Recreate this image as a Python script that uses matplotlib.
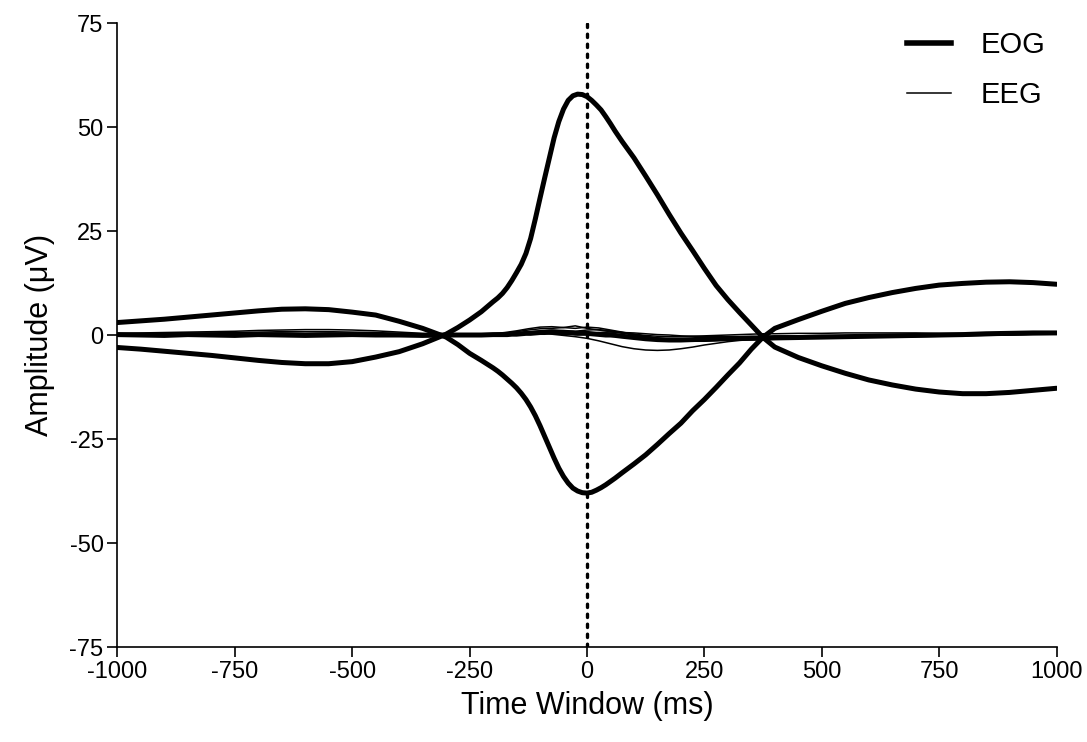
import numpy as np
import matplotlib
matplotlib.use('Agg')
import matplotlib.pyplot as plt
from matplotlib.lines import Line2D

plt.rcParams['font.family'] = ['Liberation Sans', 'DejaVu Sans']
plt.rcParams['axes.unicode_minus'] = False

# EOG time points (ms), denser around the blink peak
eog_time = ([-1000, -950, -900, -850, -800, -750, -700, -650, -600, -550,
             -500, -450, -400, -350]
            + [-300, -275, -250, -225, -200]
            + list(range(-190, 61, 10))
            + list(range(75, 401, 25))
            + [450, 500, 550, 600, 650, 700, 750, 800, 850, 900, 950, 1000])

# EOG channels (uV)
eog_up = [-3.0, -3.4, -3.9, -4.4, -4.9, -5.5, -6.1, -6.6, -6.9, -6.9,
          -6.4, -5.3, -4.0, -2.1,
          0.2, 1.8, 3.6, 5.6, 8.0,
          8.9, 10.0, 11.4, 13.1, 15.0, 17.0, 19.6, 23.2, 27.9, 32.9, 37.8,
          42.6, 47.4, 51.3, 54.3, 56.4, 57.5, 57.9, 57.8, 57.3, 56.4, 55.3,
          54.1, 52.5, 50.8, 49.0,
          46.5, 42.6, 38.2, 33.7, 29.0, 24.5, 20.3, 16.0, 11.9, 8.5, 5.4,
          2.4, -0.6, -2.9,
          -5.4, -7.4, -9.2, -10.8, -12.0, -13.0, -13.7, -14.1, -14.1, -13.8,
          -13.3, -12.8]
eog_down = [3.0, 3.4, 3.8, 4.3, 4.8, 5.3, 5.8, 6.2, 6.3, 6.1,
            5.5, 4.8, 3.3, 1.6,
            -0.5, -2.3, -4.4, -6.1, -7.9,
            -8.7, -9.6, -10.6, -11.6, -12.7, -14.0, -15.5, -17.3, -19.4,
            -21.8, -24.4, -27.0, -29.6, -32.0, -34.0, -35.6, -36.8, -37.5,
            -37.9, -38.0, -37.8, -37.3, -36.7, -36.0, -35.2, -34.4,
            -33.1, -31.0, -28.8, -26.3, -23.7, -21.2, -18.2, -15.5, -12.6,
            -9.6, -6.7, -3.4, -0.5, 1.6,
            3.7, 5.7, 7.6, 9.0, 10.2, 11.2, 12.0, 12.4, 12.7, 12.8, 12.6, 12.2]
eog_flat = [0.1, 0.0, -0.1, 0.1, 0.0, -0.1, 0.1, 0.0, -0.1, 0.0,
            0.1, 0.0, 0.0, -0.1,
            0.0, 0.0, 0.0, 0.0, 0.1,
            0.1, 0.1, 0.1, 0.2, 0.2, 0.3, 0.4, 0.4, 0.5, 0.6, 0.6, 0.7, 0.7,
            0.6, 0.6, 0.5, 0.5, 0.4, 0.4, 0.4, 0.3, 0.2, 0.1, 0.0, 0.0, -0.1,
            -0.3, -0.6, -0.9, -1.1, -1.2, -1.2, -1.1, -1.0, -0.9, -0.8, -0.8,
            -0.8, -0.8, -0.7,
            -0.6, -0.5, -0.4, -0.3, -0.2, -0.1, 0.0, 0.1, 0.3, 0.4, 0.5, 0.5]

# EEG time points (ms)
eeg_time = ([-1000, -950, -900, -850, -800, -750, -700, -650, -600, -550,
             -500, -450, -400, -350]
            + list(range(-300, 401, 25))
            + [450, 500, 550, 600, 650, 700, 750, 800, 850, 900, 950, 1000])

# EEG channels (uV)
eeg_1 = [0.2, 0.3, 0.2, 0.3, 0.4, 0.3, 0.4, 0.5, 0.4, 0.5, 0.4, 0.3, 0.2, 0.1,
         0.0, 0.1, 0.0, 0.1, 0.2, 0.3, 0.3, 0.4, 0.4, 0.2, -0.1, -0.4, -0.8,
         -1.4, -2.1, -2.8, -3.3, -3.6, -3.7, -3.6, -3.3, -2.9, -2.4, -2.0,
         -1.6, -1.3, -1.1, -0.9, -0.8,
         -0.7, -0.6, -0.5, -0.5, -0.4, -0.4, -0.3, -0.2, -0.1, 0.0, 0.1, 0.2]
eeg_2 = [0.4, 0.5, 0.6, 0.7, 0.8, 0.9, 1.1, 1.2, 1.3, 1.3, 1.2, 1.0, 0.7, 0.4,
         0.2, 0.1, 0.1, 0.2, 0.3, 0.6, 1.0, 1.5, 1.9, 2.0, 1.8, 1.6, 1.9, 1.7,
         1.2, 0.7, 0.2, -0.3, -0.7, -1.0, -1.2, -1.2, -1.1, -1.0, -0.9, -0.8,
         -0.8, -0.7, -0.7,
         -0.6, -0.6, -0.5, -0.4, -0.4, -0.3, -0.2, -0.1, 0.0, 0.1, 0.2, 0.3]
eeg_3 = [0.1, 0.2, 0.3, 0.4, 0.5, 0.6, 0.7, 0.8, 0.8, 0.8, 0.7, 0.6, 0.4, 0.2,
         0.1, 0.0, 0.0, 0.1, 0.2, 0.4, 0.8, 1.2, 1.5, 1.6, 1.8, 2.2, 1.6, 1.2,
         0.8, 0.4, 0.0, -0.4, -0.8, -1.1, -1.4, -1.5, -1.5, -1.4, -1.3, -1.2,
         -1.1, -1.0, -0.9,
         -0.8, -0.7, -0.6, -0.5, -0.4, -0.3, -0.2, -0.1, 0.0, 0.1, 0.2, 0.3]
eeg_4 = [0.0, 0.0, 0.1, 0.1, 0.1, 0.2, 0.2, 0.2, 0.3, 0.3, 0.2, 0.2, 0.1, 0.1,
         0.0, 0.0, 0.0, 0.1, 0.1, 0.2, 0.4, 0.7, 1.0, 1.2, 1.1, 0.9, 1.2, 1.3,
         1.0, 0.6, 0.2, -0.1, -0.3, -0.4, -0.4, -0.3, -0.2, -0.1, 0.0, 0.1,
         0.2, 0.3, 0.3,
         0.4, 0.4, 0.5, 0.5, 0.5, 0.5, 0.4, 0.4, 0.3, 0.3, 0.3, 0.2]
eeg_5 = [-0.1, 0.0, -0.1, 0.0, 0.0, 0.1, 0.1, 0.1, 0.2, 0.2, 0.2, 0.1, 0.1, 0.0,
         0.0, -0.1, 0.0, 0.0, 0.1, 0.1, 0.2, 0.4, 0.5, 0.6, 0.4, 0.1, 0.3, 0.6,
         0.7, 0.6, 0.5, 0.3, 0.1, 0.0, -0.2, -0.3, -0.4, -0.4, -0.4, -0.4,
         -0.3, -0.3, -0.2,
         -0.2, -0.1, -0.1, 0.0, 0.0, 0.1, 0.1, 0.2, 0.2, 0.3, 0.3, 0.4]

x_ticks = [-1000, -750, -500, -250, 0, 250, 500, 750, 1000]
y_ticks = [-75, -50, -25, 0, 25, 50, 75]

fig = plt.figure(figsize=(10.87, 7.42), dpi=100)
ax = fig.add_axes([0.108, 0.128, 0.864, 0.841])

for eeg in [eeg_1, eeg_2, eeg_3, eeg_4, eeg_5]:
    ax.plot(eeg_time, eeg, color='black', lw=1.1, solid_joinstyle='round')
for eog in [eog_flat, eog_up, eog_down]:
    ax.plot(eog_time, eog, color='black', lw=3.6, solid_joinstyle='round',
            solid_capstyle='round')

# stimulus onset
ax.axvline(0, color='black', lw=2.4, linestyle=(0, (1, 2)),
           dash_capstyle='round')

ax.set_xlim(-1000, 1000)
ax.set_ylim(-75, 75)
ax.set_xticks(x_ticks)
ax.set_yticks(y_ticks)
ax.tick_params(labelsize=17, length=7, width=1.2, direction='out', pad=3)
for side in ['top', 'right']:
    ax.spines[side].set_visible(False)
for side in ['left', 'bottom']:
    ax.spines[side].set_linewidth(1.2)

ax.set_xlabel('Time Window (ms)', fontsize=22, labelpad=6)
ax.set_ylabel('Amplitude (μV)', fontsize=22, labelpad=10)

handles = [Line2D([], [], color='black', lw=4),
           Line2D([], [], color='black', lw=1.1)]
ax.legend(handles, ['EOG', 'EEG'], loc='upper right', frameon=False,
          fontsize=21, handlelength=1.5, handletextpad=1.0,
          labelspacing=0.75, borderaxespad=0.0,
          bbox_to_anchor=(1.0, 1.006))

fig.savefig('out.png', dpi=100)
